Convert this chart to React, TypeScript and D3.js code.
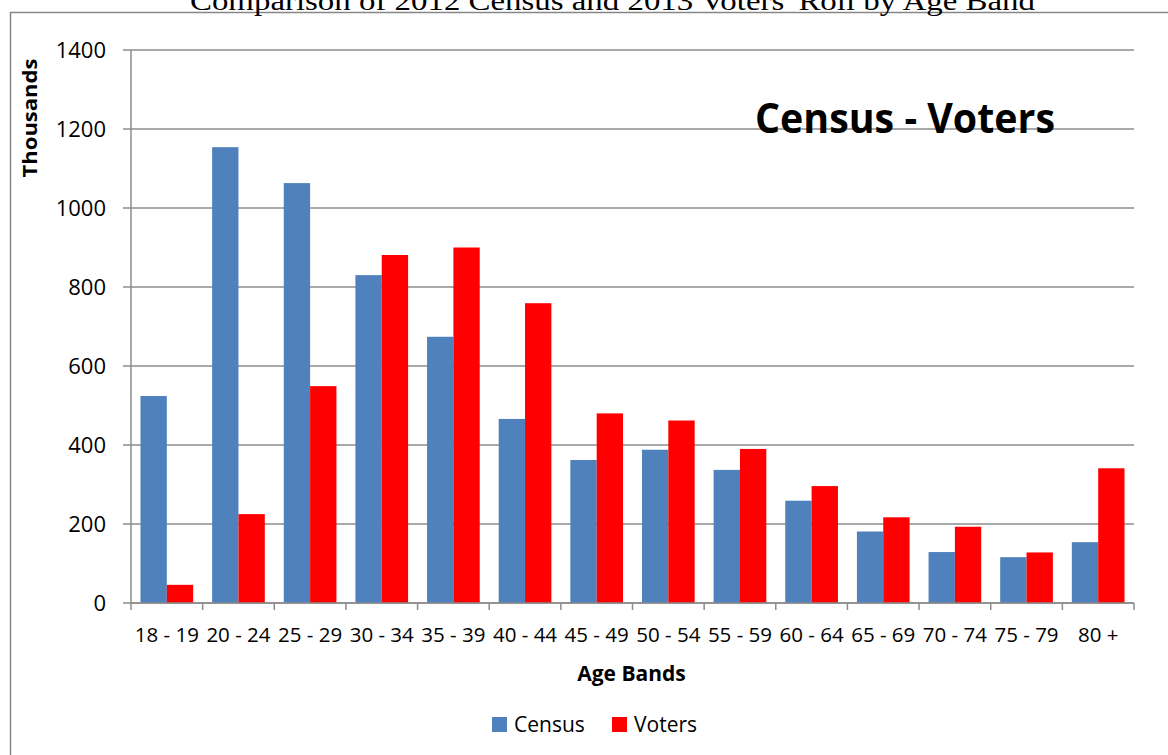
import React from "react";
import * as d3 from "d3";

const categories = ["18 - 19","20 - 24","25 - 29","30 - 34","35 - 39","40 - 44","45 - 49","50 - 54","55 - 59","60 - 64","65 - 69","70 - 74","75 - 79","80 +"];
const census = [524, 1154, 1063, 830, 674, 466, 362, 388, 337, 259, 181, 129, 116, 154];
const voters = [46, 225, 549, 881, 900, 759, 480, 462, 390, 296, 217, 193, 128, 341];
const yTicks = [0, 200, 400, 600, 800, 1000, 1200, 1400];
const seriesNames = ["Census", "Voters"];
const seriesColors = ["#4F81BD", "#FF0000"];

const W = 1168, H = 755;
const left = 131, right = 1134, top = 50, bottom = 603;

export default function App() {
  const x = d3.scaleBand<string>().domain(categories).range([left, right]).paddingInner(0).paddingOuter(0);
  const inner = d3.scaleBand<string>().domain(seriesNames).range([0, x.bandwidth()]).paddingInner(0).paddingOuter(0.36);
  const y = d3.scaleLinear().domain([0, 1400]).range([bottom, top]);
  const grid = "#8c8c8c";
  const font = "'Open Sans', sans-serif";
  const data = [census, voters];
  const bounds = categories.map((c) => x(c)!).concat([right]);

  return (
    <svg width={W} height={H} style={{ position: "absolute", left: 0, top: 0, background: "#fff" }}>
      <rect x={10.5} y={12.5} width={1300} height={900} fill="#fff" stroke="#868686" strokeWidth={1.5} />
      <text x={190} y={10} fontFamily="'Liberation Serif', serif" fontSize={28} textLength={845} lengthAdjust="spacingAndGlyphs">
        Comparison of 2012 Census and 2013 Voters' Roll by Age Band
      </text>
      {yTicks.map((t) => (
        <g key={t}>
          <line x1={123} x2={right} y1={y(t)} y2={y(t)} stroke={grid} strokeWidth={1.5} />
          <text x={106} y={y(t)} dy="0.36em" textAnchor="end" fontFamily={font} fontSize={22} fill="#000">{t}</text>
        </g>
      ))}
      {data.map((vals, si) =>
        categories.map((c, i) => (
          <rect key={si + "-" + c} x={x(c)! + inner(seriesNames[si])!} y={y(vals[i])} width={inner.bandwidth()} height={y(0) - y(vals[i])} fill={seriesColors[si]} />
        ))
      )}
      <line x1={left} x2={left} y1={top} y2={bottom} stroke={grid} strokeWidth={1.5} />
      <line x1={left} x2={right} y1={bottom} y2={bottom} stroke={grid} strokeWidth={1.5} />
      {bounds.map((b, i) => (
        <line key={i} x1={b} x2={b} y1={bottom} y2={bottom + 7} stroke={grid} strokeWidth={1.5} />
      ))}
      {categories.map((c) => (
        <text key={c} x={x(c)! + x.bandwidth() / 2} y={642} textAnchor="middle" fontFamily={font} fontSize={20.5} fill="#000">{c}</text>
      ))}
      <text transform="translate(37,118) rotate(-90)" textAnchor="middle" fontFamily={font} fontWeight="bold" fontSize={20} textLength={119} lengthAdjust="spacingAndGlyphs" fill="#000">Thousands</text>
      <text x={631.5} y={681} textAnchor="middle" fontFamily={font} fontWeight="bold" fontSize={21} fill="#000">Age Bands</text>
      <text x={755} y={133} fontFamily={font} fontWeight="bold" fontSize={41} textLength={300} lengthAdjust="spacingAndGlyphs" fill="#000">Census - Voters</text>
      {seriesNames.map((s, i) => {
        const lx = i === 0 ? 492 : 612;
        return (
          <g key={s}>
            <rect x={lx} y={717} width={15} height={15} fill={seriesColors[i]} />
            <text x={lx + 22} y={732} fontFamily={font} fontSize={21} fill="#000">{s}</text>
          </g>
        );
      })}
    </svg>
  );
}
